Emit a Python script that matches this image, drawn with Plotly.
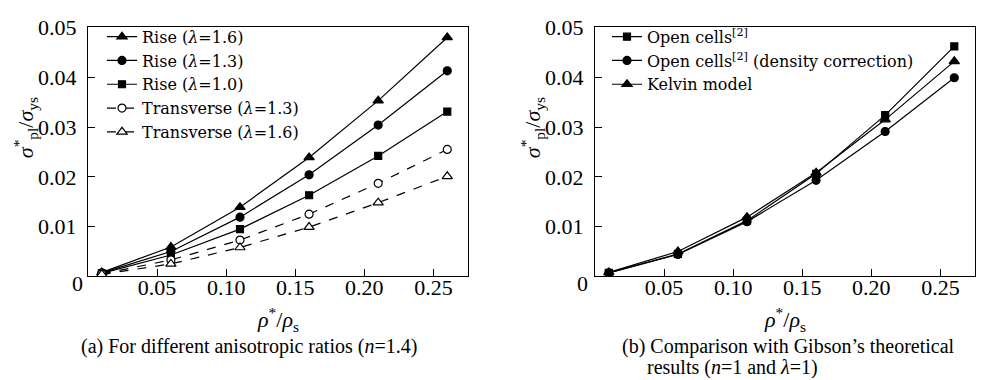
import plotly.graph_objects as go

# ---- data ----
x_vals = [0.01, 0.06, 0.11, 0.16, 0.21, 0.26]

rise_16 = [0.0008, 0.0059, 0.0139, 0.0239, 0.0353, 0.0480]
rise_13 = [0.0007, 0.0050, 0.0119, 0.0204, 0.0304, 0.0413]
rise_10 = [0.0006, 0.0043, 0.0095, 0.0163, 0.0242, 0.0331]
trans_13 = [0.0005, 0.0033, 0.0073, 0.0125, 0.0187, 0.0255]
trans_16 = [0.0004, 0.0025, 0.0058, 0.0099, 0.0148, 0.0201]

open_cells = [0.0007, 0.0045, 0.0112, 0.0206, 0.0324, 0.0462]
open_cells_corr = [0.0007, 0.0044, 0.0110, 0.0193, 0.0291, 0.0399]
kelvin = [0.0008, 0.0050, 0.0119, 0.0208, 0.0315, 0.0432]

x_ticks = [0.05, 0.10, 0.15, 0.20, 0.25]
x_tick_text = ["0.05", "0.10", "0.15", "0.20", "0.25"]
y_ticks = [0.01, 0.02, 0.03, 0.04, 0.05]
y_tick_text = ["0.01", "0.02", "0.03", "0.04", "0.05"]

FONT = "Liberation Serif"
LEG_FONT = "DejaVu Serif"
W, H = 981, 380

fig = go.Figure()

def add(x, y, name, symbol, dash, xa, ya, legend, open_marker=False, size=9):
    fig.add_trace(go.Scatter(
        x=x, y=y, name=name, mode="lines+markers",
        line=dict(color="black", width=1.2, dash=dash),
        marker=dict(symbol=symbol, size=size,
                    color="white" if open_marker else "black",
                    line=dict(color="black", width=1.2)),
        xaxis=xa, yaxis=ya, legend=legend,
    ))

add(x_vals, rise_16, "Rise (<i>λ</i>=1.6)", "triangle-up", "solid", "x", "y", "legend", size=9)
add(x_vals, rise_13, "Rise (<i>λ</i>=1.3)", "circle", "solid", "x", "y", "legend", size=8)
add(x_vals, rise_10, "Rise (<i>λ</i>=1.0)", "square", "solid", "x", "y", "legend", size=7)
add(x_vals, trans_13, "Transverse (<i>λ</i>=1.3)", "circle", "dash", "x", "y", "legend", open_marker=True, size=8)
add(x_vals, trans_16, "Transverse (<i>λ</i>=1.6)", "triangle-up", "dash", "x", "y", "legend", open_marker=True, size=9)

add(x_vals, open_cells, "Open cells<sup>[2]</sup>", "square", "solid", "x2", "y2", "legend2", size=7)
add(x_vals, open_cells_corr, "Open cells<sup>[2]</sup> (density correction)", "circle", "solid", "x2", "y2", "legend2", size=8)
add(x_vals, kelvin, "Kelvin model", "triangle-up", "solid", "x2", "y2", "legend2", size=9)

yd = [(H - 273) / H, (H - 16) / H]
axis_common = dict(showline=True, linecolor="black", linewidth=1.2, mirror=True,
                   ticks="inside", ticklen=7, tickwidth=1.2, tickcolor="black",
                   showgrid=False, zeroline=False, ticklabelposition="outside",
                   tickfont=dict(family=FONT, size=22, color="black"))

leg_font = dict(family=LEG_FONT, size=16, color="black")
fig.update_layout(
    width=W, height=H, margin=dict(l=0, r=0, t=0, b=0),
    plot_bgcolor="white", paper_bgcolor="white",
    font=dict(family=FONT, color="black"),
    xaxis=dict(domain=[88 / W, 468 / W], range=[0, 0.275], tickvals=x_ticks, ticktext=x_tick_text,
               anchor="y", ticklabelstandoff=-9, **axis_common),
    yaxis=dict(domain=yd, range=[0, 0.05], tickvals=y_ticks, ticktext=y_tick_text,
               anchor="x", ticklabelstandoff=6, **axis_common),
    xaxis2=dict(domain=[595 / W, 975 / W], range=[0, 0.275], tickvals=x_ticks, ticktext=x_tick_text,
                anchor="y2", ticklabelstandoff=-9, **axis_common),
    yaxis2=dict(domain=yd, range=[0, 0.05], tickvals=y_ticks, ticktext=y_tick_text,
                anchor="x2", ticklabelstandoff=6, **axis_common),
    legend=dict(x=102 / W, y=(H - 8) / H, xanchor="left", yanchor="top",
                bgcolor="rgba(0,0,0,0)", font=leg_font, tracegroupgap=0, itemwidth=30),
    legend2=dict(x=607 / W, y=(H - 8) / H, xanchor="left", yanchor="top",
                 bgcolor="rgba(0,0,0,0)", font=leg_font, tracegroupgap=0, itemwidth=30),
    showlegend=True,
)

annotations = [
    dict(text="0", x=77 / W, y=(H - 280) / H),
    dict(text="0", x=582 / W, y=(H - 280) / H),
    dict(text="<i>ρ</i><sup>*</sup>/<i>ρ</i><sub>s</sub>", x=278 / W, y=(H - 318) / H),
    dict(text="<i>ρ</i><sup>*</sup>/<i>ρ</i><sub>s</sub>", x=785 / W, y=(H - 318) / H),
    dict(text="<i>σ</i><sup>*</sup><sub>pl</sub>/<i>σ</i><sub>ys</sub>", x=25 / W, y=(H - 120) / H, textangle=-90),
    dict(text="<i>σ</i><sup>*</sup><sub>pl</sub>/<i>σ</i><sub>ys</sub>", x=532 / W, y=(H - 120) / H, textangle=-90),
    dict(text="(a) For different anisotropic ratios (<i>n</i>=1.4)", x=249 / W, y=(H - 345) / H, size=20),
    dict(text="(b) Comparison with Gibson’s theoretical", x=620 / W, y=(H - 345) / H, size=20, xanchor="left"),
    dict(text="results (<i>n</i>=1 and <i>λ</i>=1)", x=645 / W, y=(H - 367) / H, size=20, xanchor="left"),
]
for a in annotations:
    size = a.pop("size", 22)
    xa = a.pop("xanchor", "center")
    fig.add_annotation(xref="paper", yref="paper", showarrow=False, xanchor=xa, yanchor="middle",
                       font=dict(family=FONT, size=size, color="black"), **a)

fig.write_html("out.html")
